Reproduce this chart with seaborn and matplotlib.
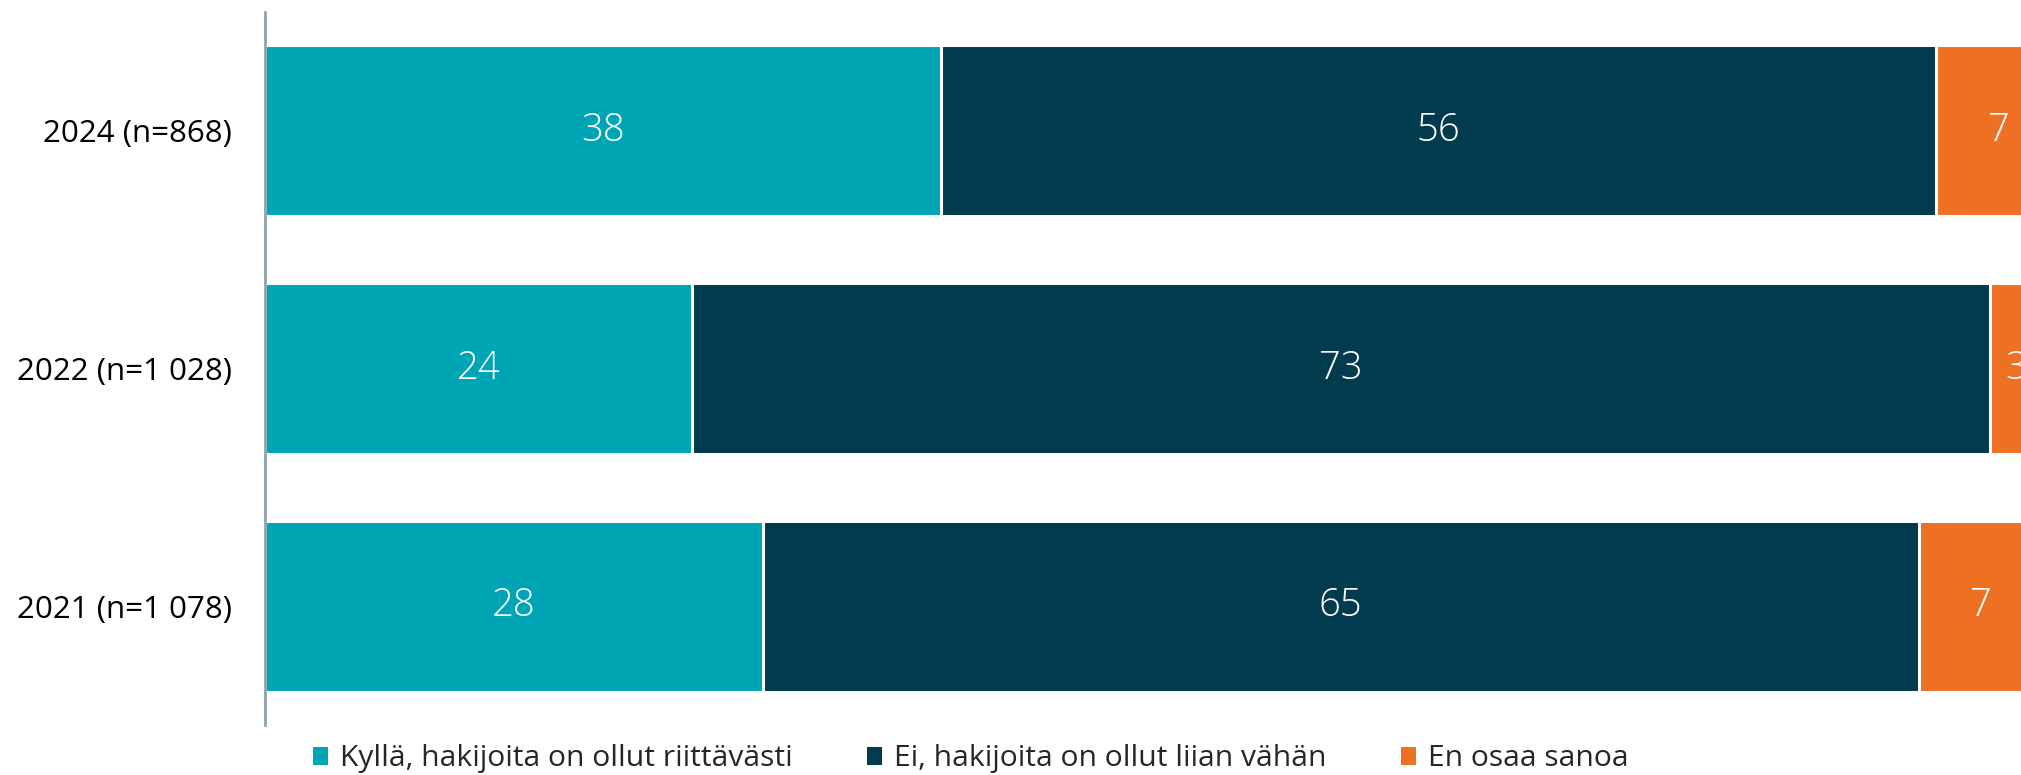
import matplotlib
matplotlib.use("Agg")
import matplotlib.pyplot as plt
import seaborn as sns
import pandas as pd
import numpy as np
from matplotlib.patches import Patch

categories = ["2024 (n=868)", "2022 (n=1 028)", "2021 (n=1 078)"]
series_names = ["Kyllä, hakijoita on ollut riittävästi",
                "Ei, hakijoita on ollut liian vähän",
                "En osaa sanoa"]
kylla = [38, 24, 28]
ei = [56, 73, 65]
eos = [7, 3, 7]
colors = ["#00A5B5", "#023B4D", "#EE7023"]

sns.set_theme(style="white")
plt.rcParams['font.family'] = ['Open Sans', 'DejaVu Sans']

fig = plt.figure(figsize=(20.21, 7.75), dpi=100)
ax = fig.add_axes([0.1311, 0.0645, 0.8798, 0.92])

vals = np.array([kylla, ei, eos], dtype=float)
cum = np.cumsum(vals, axis=0)

# draw cumulative bars from the longest to the shortest
for i in range(len(series_names) - 1, -1, -1):
    df = pd.DataFrame({"cat": categories, "val": cum[i]})
    sns.barplot(data=df, y="cat", x="val", orient="h", color=colors[i],
                width=0.72, edgecolor="white", linewidth=2.2, ax=ax,
                saturation=1)

# labels
for i in range(len(series_names)):
    for j, c in enumerate(categories):
        start = cum[i][j] - vals[i][j]
        ax.text(start + vals[i][j] / 2, j, f"{int(vals[i][j])}",
                ha="center", va="center", color="white", fontsize=27.5,
                fontweight="light")

ax.set_xlim(0, 100)
ax.set_ylim(2.5, -0.5)
ax.set_xlabel("")
ax.set_ylabel("")
ax.set_xticks([])
for s in ["top", "right", "bottom"]:
    ax.spines[s].set_visible(False)
ax.spines["left"].set_color("#8AA4AE")
ax.spines["left"].set_linewidth(2)
ax.tick_params(axis="y", length=0, pad=24, labelsize=22.5, labelcolor="black")

handles = [Patch(facecolor=colors[k], edgecolor="none") for k in range(3)]
fig.legend(handles, series_names, loc="center left",
           bbox_to_anchor=(0.155, 0.021), ncol=3, frameon=False,
           fontsize=21.6, handlelength=0.48, handleheight=0.55,
           handletextpad=0.4, columnspacing=2.5, borderaxespad=0,
           borderpad=0)

fig.savefig("out.png", dpi=100)
